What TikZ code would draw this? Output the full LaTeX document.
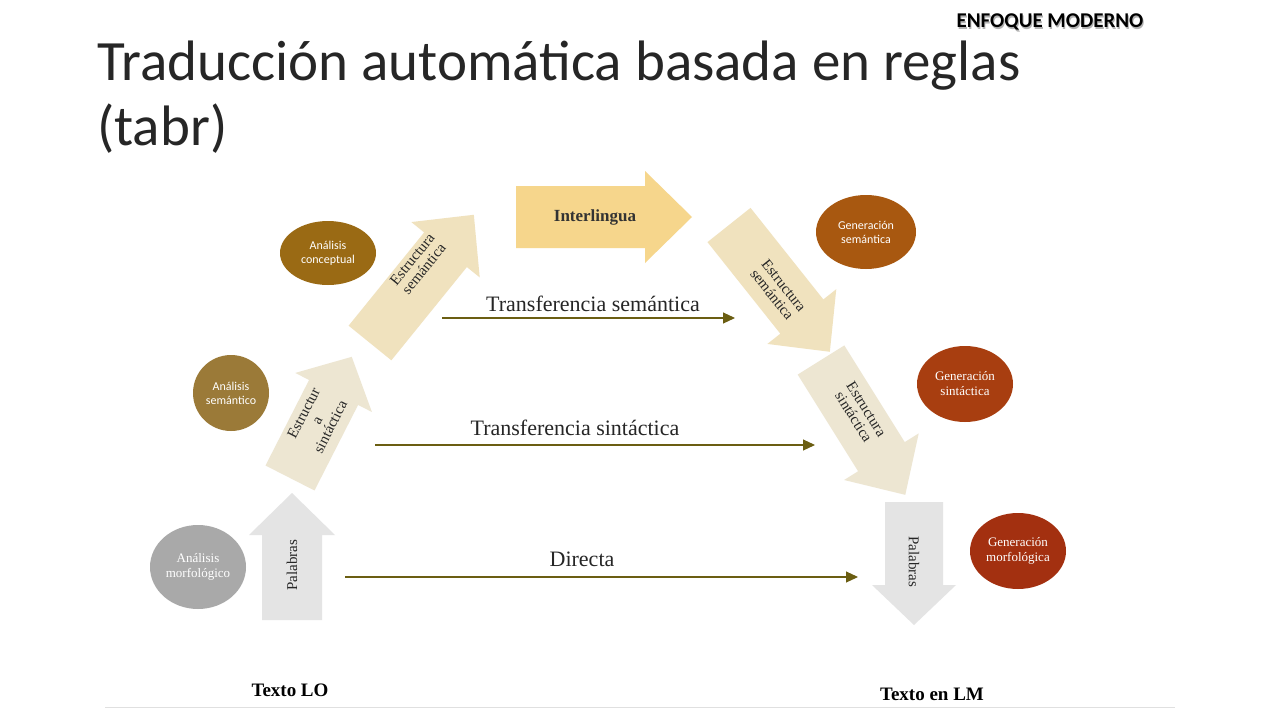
\documentclass[tikz,border=0pt]{standalone}
\usepackage{fontspec}
\setmainfont{Liberation Serif}
\newfontfamily\calib{Carlito}
\usetikzlibrary{arrows.meta,shapes.geometric}
\newcommand\barrow[8]{%
  \begin{scope}[shift={(#1,#2)},rotate=#3]
    \fill[#8] (0,{#5/2}) -- ({#4-#7},{#5/2}) -- ({#4-#7},{#6/2}) -- (#4,0) -- ({#4-#7},{-#6/2}) -- ({#4-#7},{-#5/2}) -- (0,{-#5/2}) -- cycle;
  \end{scope}}
\definecolor{olive}{HTML}{6B5E12}
\definecolor{cAC}{HTML}{9A6A14}
\definecolor{cAS}{HTML}{9B7A38}
\definecolor{cAM}{HTML}{A9A9A9}
\definecolor{cGS}{HTML}{A85810}
\definecolor{cGX}{HTML}{A83E10}
\definecolor{cGM}{HTML}{A33010}
\definecolor{beigeA}{HTML}{EDE6D2}
\definecolor{beigeB}{HTML}{F0E2BE}
\definecolor{interc}{HTML}{F6D68C}
\definecolor{greyA}{HTML}{E4E4E4}
\tikzset{
  ell/.style={ellipse,fill=#1,text=white,font=\calib\fontsize{12}{14}\selectfont,align=center,inner sep=0pt},
  arlab/.style={font=\fontsize{15}{16}\selectfont,align=center,text=black!85},
  arlabs/.style={font=\fontsize{15}{15}\selectfont,align=center,text=black!85},
  transfer/.style={draw=olive,line width=1.1pt,-{Triangle[length=12pt,width=11pt]}},
  tlab/.style={font=\fontsize{22}{24}\selectfont,text=black!85},
}
\begin{document}
\begin{tikzpicture}[x=1pt,y=-1pt]
\useasboundingbox[fill=white] (0,0) rectangle (1280,720);
% title
\node[anchor=base west,font=\calib\fontsize{57}{62}\selectfont,text=black!85,inner sep=0pt] (title) at (97,80) {Traducción automática basada en reglas};
\node[anchor=base west,font=\calib\fontsize{57}{62}\selectfont,text=black!85,inner sep=0pt] (title2) at (97,145) {(tabr)};
\node[font=\calib\bfseries\fontsize{21}{22}\selectfont,text=black!30] (enfs) at (1051,24) {ENFOQUE MODERNO};
\node[font=\calib\bfseries\fontsize{21}{22}\selectfont] (enf) at (1050,22) {ENFOQUE MODERNO};
% block arrows
\barrow{292}{620}{90}{127}{60}{86}{42}{greyA}
\node[arlab,rotate=90] (pal1) at (292,565) {Palabras};
\barrow{290}{478}{63}{136}{55}{86}{40}{beigeA}
\node[arlabs,rotate=63] (es1) at (317,420) {Estructur\\a\\sintáctica};
\barrow{370}{343}{51}{165}{55}{88}{45}{beigeB}
\node[arlabs,rotate=51] (es2) at (418,264) {Estructura\\semántica};
\barrow{516}{217}{0}{176}{62}{92}{47}{interc}
\node[font=\bfseries\fontsize{17}{18}\selectfont,text=black!80] (inter) at (595,217) {Interlingua};
\barrow{729}{225}{-51.5}{162}{55}{88}{45}{beigeB}
\node[arlabs,rotate=-51.5] (es3) at (778,290) {Estructura\\semántica};
\barrow{821}{360}{-58}{159}{55}{88}{45}{beigeA}
\node[arlabs,rotate=-58] (es4) at (860,413) {Estructura\\sintáctica};
\barrow{914}{502}{-90}{123}{58}{84}{40}{greyA}
\node[arlab,rotate=-90] (pal2) at (914,562) {Palabras};
% ellipses
\node[ell=cAC,minimum width=96pt,minimum height=64pt] (ac) at (328,253) {Análisis\\conceptual};
\node[ell=cAS,minimum width=76pt,minimum height=76pt] (as) at (231,393) {Análisis\\semántico};
\node[ell=cAM,minimum width=96pt,minimum height=84pt,font=\fontsize{13}{15}\selectfont] (am) at (198,567) {Análisis\\morfológico};
\node[ell=cGS,minimum width=100pt,minimum height=74pt] (gs) at (866,232) {Generación\\semántica};
\node[ell=cGX,minimum width=96pt,minimum height=76pt,font=\fontsize{13}{15}\selectfont] (gx) at (965,384) {Generación\\sintáctica};
\node[ell=cGM,minimum width=96pt,minimum height=76pt,font=\fontsize{13}{15}\selectfont] (gm) at (1018,551) {Generación\\morfológica};
% transfer lines
\coordinate (t1a) at (442,318); \coordinate (t1b) at (735,318);
\coordinate (t2a) at (375,445); \coordinate (t2b) at (815,445);
\coordinate (t3a) at (345,577); \coordinate (t3b) at (858,577);
\draw[transfer] (t1a) -- (t1b);
\draw[transfer] (t2a) -- (t2b);
\draw[transfer] (t3a) -- (t3b);
\node[tlab] (l1) at (593,304) {Transferencia semántica};
\node[tlab] (l2) at (575,428) {Transferencia sintáctica};
\node[tlab] (l3) at (582,559) {Directa};
% bottom
\node[font=\bfseries\fontsize{19}{20}\selectfont] (lo) at (290,690) {Texto LO};
\node[font=\bfseries\fontsize{19}{20}\selectfont] (lm) at (932,694) {Texto en LM};
\draw[black!12,line width=1pt] (105,707) -- (1175,707);
\end{tikzpicture}
\end{document}
